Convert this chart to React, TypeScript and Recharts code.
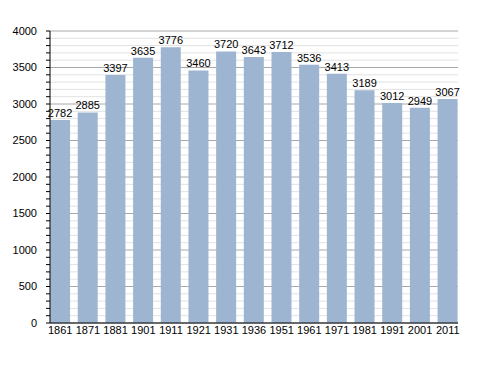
import React from "react";
import { BarChart, Bar, XAxis, YAxis, CartesianGrid, LabelList } from "recharts";

const years = ["1861", "1871", "1881", "1901", "1911", "1921", "1931", "1936", "1951", "1961", "1971", "1981", "1991", "2001", "2011"];
const population = [2782, 2885, 3397, 3635, 3776, 3460, 3720, 3643, 3712, 3536, 3413, 3189, 3012, 2949, 3067];
const yTicks: number[] = [];
for (let v = 0; v <= 4000; v += 100) yTicks.push(v);

const data = years.map((y, i) => ({ year: y, value: population[i] }));

const FONT = "'Liberation Sans', Arial, sans-serif";

const YTick = (props: any) => {
  const { x, y, payload } = props;
  const major = payload.value % 500 === 0;
  return (
    <g>
      <line x1={x - 4} x2={x} y1={y} y2={y} stroke="#000" strokeWidth={1} />
      {major && (
        <text x={x - 13} y={y} dy={3.5} textAnchor="end" fontSize={11} fill="#000" fontFamily={FONT}>
          {payload.value}
        </text>
      )}
    </g>
  );
};

const gridLine = (props: any) => {
  const { x1, x2, y1, y2, index } = props;
  const major = index % 5 === 0;
  return (
    <line
      key={`g-${index}`}
      x1={x1}
      x2={x2}
      y1={y1}
      y2={y2}
      stroke={major ? "#a8a8a8" : "#e2e2e2"}
      strokeWidth={1}
    />
  );
};

export default function App() {
  return (
    <BarChart
      width={480}
      height={365}
      data={data}
      margin={{ top: 23, right: 30, bottom: 30, left: 0 }}
      barCategoryGap="13.2%"
    >
      <CartesianGrid vertical={false} horizontal={gridLine} />
      <XAxis
        dataKey="year"
        axisLine={{ stroke: "#000" }}
        tickLine={false}
        tickSize={0}
        interval={0}
        padding={{ left: -3.6, right: -3.6 }}
        tick={{ fontSize: 11, fill: "#000", fontFamily: FONT }}
        tickMargin={3}
        height={20}
      />
      <YAxis
        width={42}
        domain={[0, 4000]}
        ticks={yTicks}
        interval={0}
        axisLine={{ stroke: "#000" }}
        tickLine={false}
        tickSize={0}
        tickMargin={0}
        tick={<YTick />}
      />
      <Bar dataKey="value" fill="#9db5d1" isAnimationActive={false}>
        <LabelList dataKey="value" position="top" offset={3} fontSize={11} fill="#000" fontFamily={FONT} />
      </Bar>
    </BarChart>
  );
}
